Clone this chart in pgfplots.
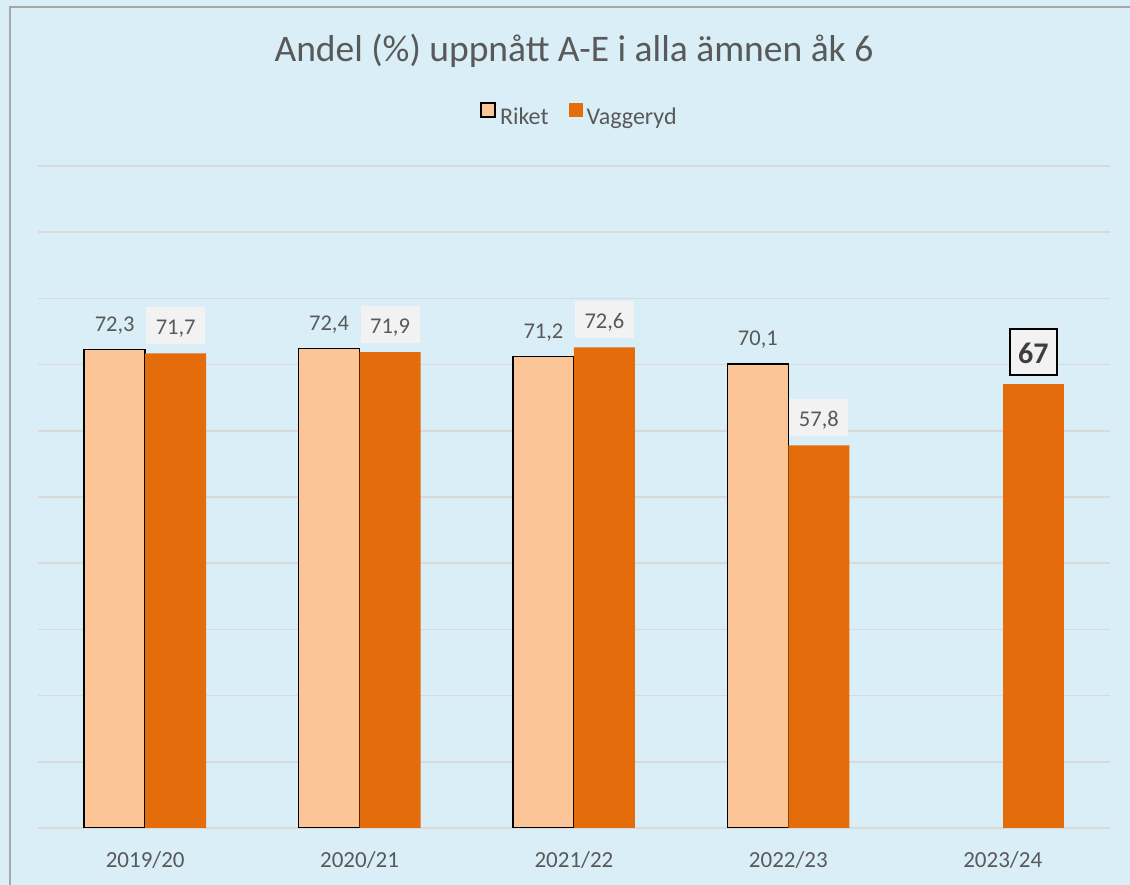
\documentclass[border=0pt]{standalone}
\usepackage{fontspec}
\setmainfont{Carlito}
\usepackage{pgfplots}
\pgfplotsset{compat=1.18}
\definecolor{bgBlue}{HTML}{D9EEF6}
\definecolor{cRiket}{HTML}{FCC598}
\definecolor{cVagg}{HTML}{E46C0A}
\definecolor{txt}{HTML}{595959}
\definecolor{gridc}{HTML}{D9D9D9}
\definecolor{frameC}{HTML}{A6A6A6}
\definecolor{lblbg}{HTML}{F2F2F2}

\begin{document}
\begin{tikzpicture}[x=1pt,y=1pt]
\path[use as bounding box] (0,0) rectangle (1130,885);
\fill[bgBlue] (0,0) rectangle (1130,885);
\draw[frameC, line width=2pt] (10,-5) -- (10,878) -- (1135,878);

\node[anchor=base, font=\fontsize{37.5}{42}\selectfont, text=txt]
  at (574,823) {Andel (\%) uppnått A-E i alla ämnen åk 6};

\begin{axis}[
  at={(38pt,57pt)}, anchor=south west,
  scale only axis, width=1072pt, height=662pt,
  ymin=0, ymax=100, ytick={0,10,...,100}, yticklabels={},
  xmin=-0.5, xmax=4.5, xtick={0,1,2,3,4},
  xticklabels={2019/20,2020/21,2021/22,2022/23,2023/24},
  xticklabel style={anchor=base, yshift=-40pt, font=\fontsize{23}{27}\selectfont, text=txt},
  ymajorgrids, grid style={gridc, line width=1.5pt},
  axis line style={draw=none}, major tick length=0pt,
  ybar=0pt, bar width=61pt,
  nodes near coords,
  nodes near coords style={/pgf/number format/assume math mode=true,
    /pgf/number format/use comma, /pgf/number format/fixed,
    /pgf/number format/fixed zerofill, /pgf/number format/precision=1},
  legend style={at={(0.505,1.077)}, anchor=center, legend columns=2,
    draw=none, fill=none, font=\fontsize{24}{28}\selectfont, text=txt,
    inner sep=0pt,
    /tikz/every odd column/.append style={column sep=2pt},
    /tikz/every even column/.append style={column sep=18pt}},
]
\addplot[fill=cRiket, draw=black, line width=1.5pt, bar shift=-30.5pt,
  every node near coord/.append style={anchor=base, yshift=18pt, text=txt,
    font=\fontsize{22.5}{26}\selectfont},
  legend image code/.code={\draw[fill=cRiket, draw=black, line width=2pt] (0pt,-1pt) rectangle (14pt,13pt);}]
  coordinates {(0,72.3) (1,72.4) (2,71.2) (3,70.1)};
\addlegendentry{Riket}

\addplot[fill=cVagg, draw=none, bar shift=30.5pt,
  every node near coord/.append style={anchor=base, yshift=19pt, text=txt,
    font=\fontsize{22.5}{26}\selectfont, fill=lblbg, inner sep=0pt,
    text height=27pt, text depth=10pt, minimum width=59pt},
  legend image code/.code={\fill[cVagg] (0pt,-1pt) rectangle (14pt,13pt);}]
  coordinates {(0,71.7) (1,71.9) (2,72.6) (3,57.8)};
\addlegendentry{Vaggeryd}

\addplot[fill=cVagg, draw=none, bar shift=30.5pt, forget plot,
  nodes near coords={\textbf{67}},
  every node near coord/.append style={anchor=base, yshift=21pt, text=txt!70!black,
    font=\fontsize{30}{34}\selectfont, fill=lblbg, draw=black, line width=2pt,
    inner sep=0pt, text height=34pt, text depth=12pt, minimum width=47pt}]
  coordinates {(4,67)};
\end{axis}
\end{tikzpicture}
\end{document}
